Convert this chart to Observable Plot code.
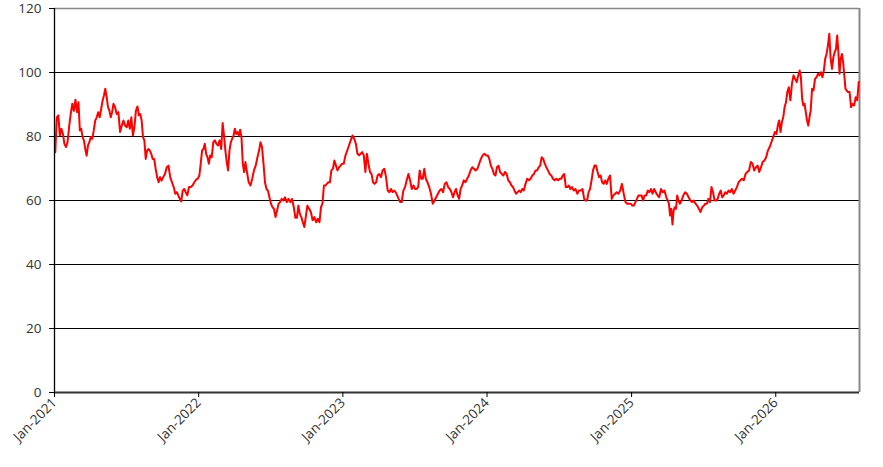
<!DOCTYPE html>
<html>
<head>
<meta charset="utf-8">
<script src="https://cdn.jsdelivr.net/npm/d3@7"></script>
<script src="https://cdn.jsdelivr.net/npm/@observablehq/plot@0.6"></script>
<style>
  html, body { margin: 0; padding: 0; background: #fff; }
  #chart svg { display: block; }
</style>
</head>
<body>
<div id="chart"></div>
<script>
// Values, grouped by month (Jan..Dec) for each year.
const v2021 = [
  [75.1, 86, 86.6, 80.3, 82.4, 80.8, 77.7, 76.7],
  [78.2, 83, 87, 90.2, 88, 91.5, 87.6],
  [90.7, 81.9, 82.4, 79.8, 78.8, 76.1, 74, 77.2, 78.2],
  [79.8, 79.3, 81.9, 85, 86, 87.6, 86, 88.6],
  [91.2, 92.8, 94.9, 92.3, 89.2, 88.1, 86, 87.6, 90.2],
  [89.2, 87, 87.6, 81.4, 83.4, 85, 83.4],
  [82.9, 85, 82.4, 86, 80.3, 82.9, 88.1, 89.4],
  [86.6, 87, 85, 79.8, 78.8, 73, 75.6, 76.1, 75.6],
  [74.6, 73, 73, 69.9, 67.3, 65.7, 67.3, 66.2],
  [67.3, 68.3, 70.4, 70.9, 67.3, 65.7, 64.2],
  [62.1, 62.6, 61.6, 60.5, 59.7, 63.1, 63.6, 62.6],
  [61.6, 64.2, 64.2, 64.7, 65.7, 66.5, 66.8]
];
const v2022 = [
  [67.8, 71.5, 75.6, 76.1, 77.7, 74.6, 73.5, 71.5, 74.1],
  [73.5, 78.2, 78.8, 77.7, 77.2, 78.8, 76.1],
  [84.2, 80.3, 75.6, 72, 69.4, 75.6, 78.2, 79.3, 80.3],
  [82.4, 80.8, 81.4, 80.3, 82.1, 79.8, 71.5, 68.9, 72],
  [68.9, 65.7, 64.7, 66.8, 69.4, 70.9, 73.5],
  [75.6, 78.2, 76.7, 71.5, 65.7, 63.6, 63.1, 61],
  [59, 57.9, 57.4, 54.8, 56.9, 59, 59.5, 60.5],
  [60, 61, 59.5, 60.5, 59.5, 60.5, 57.9],
  [54.6, 54.6, 58.4, 55.8, 54.8, 53.2, 51.7, 54.8],
  [58.4, 57.4, 56.4, 53.8, 54.8, 53.2, 54.3],
  [53.2, 57.9, 59, 64.7, 64.7, 65.2, 65.7, 65.7],
  [69.4, 69.9, 72.5, 70.9, 69.4, 70.4, 70.9, 71.5]
];
const v2023 = [
  [71.5, 74.1, 75.6, 77.2, 78.8, 80.3, 79.3],
  [77.7, 74.6, 74.1, 74.6, 75.1, 74.1, 68.9],
  [74.6, 71.5, 68.9, 68.3, 65.7, 65.2, 65.7, 67.8],
  [68.3, 67.3, 69.4, 69.9, 67.3, 63.1, 62.6],
  [63.6, 62.6, 63.1, 62.6, 61.6, 60.5, 59.5, 59.5],
  [63.1, 64.2, 66.3, 68.3, 66.3, 63.6, 64.7],
  [63.6, 63.6, 64.2, 69.4, 66.8, 66.8, 69.9, 66.8],
  [65.7, 64.2, 62.1, 59, 60, 61, 62.1],
  [63.1, 63.6, 62.6, 65.2, 65.7, 64.2, 63.6],
  [62.6, 61, 62.6, 63.6, 61.6, 60.5, 63.6, 64.7],
  [66.3, 65.7, 66.8, 67.8, 69.4, 70.4, 69.9],
  [69.4, 69.9, 71.5, 73, 74.1, 74.6, 74.1]
];
const v2024 = [
  [74.1, 73, 70.9, 69.9, 68.3, 67.8, 70.4, 70.9],
  [68.9, 68.3, 67.8, 68.9, 68.3, 66.3, 65.7],
  [64.7, 64.2, 63.1, 62.1, 62.6, 63.1, 62.6, 63.6],
  [63.1, 65.2, 66.8, 66.3, 66.8, 67.8, 68.3],
  [69.4, 69.4, 70.4, 70.9, 73.5, 73, 71.5, 70.4],
  [69.4, 68.3, 67.8, 66.8, 66.3, 66.8, 66.3],
  [66.8, 66.8, 67.8, 68.3, 64.2, 64.2, 64.7, 63.6],
  [64.2, 63.1, 63.6, 62.1, 63.1, 63.1, 63.6],
  [60.5, 60, 60, 62.6, 63.6, 66.3, 69.4, 70.9],
  [70.9, 68.9, 67.3, 67.8, 65.7, 65.2, 66.3, 65.2],
  [66.8, 67.8, 60.5, 61.6, 62.1, 62.6, 62.1],
  [63.1, 65.2, 62.1, 59.5, 59, 59, 59]
];
const v2025 = [
  [58.4, 58.4, 59.5, 60.5, 61.6, 61.6, 61.6, 60],
  [61.6, 61.6, 63.1, 62.6, 63.6, 62.1, 63.6],
  [62.6, 61.6, 61, 63.6, 62.6, 63.1, 61],
  [60, 59, 55.3, 57.4, 52.5, 56.9, 57.9, 57.4, 61.6, 60],
  [59, 60, 61.6, 62.6, 62.1, 61, 60],
  [59.5, 60, 59, 58.4, 57.4, 56.4, 57.9],
  [58.4, 59, 59, 60.5, 59.5, 64.2, 62.6, 60],
  [60, 60.5, 62.1, 63.1, 61, 61.6, 62.6, 62.1],
  [63.1, 62.6, 63.6, 62.1, 63.1, 64.2, 65.7],
  [66.3, 66.8, 66.3, 68.3, 68.9, 69.4, 72],
  [71.5, 69.4, 70.4, 70.9, 68.9, 70.4, 72],
  [72.5, 73.5, 75.6, 76.7, 78.2, 79.8, 81.4]
];
const v2026 = [
  [80.8, 83.4, 85, 81.4, 84.5, 86, 89.2, 90.7, 93.9],
  [95.4, 91.3, 96.5, 99.1, 98, 97, 99.1],
  [100.6, 98.5, 91.8, 89.7, 90.2, 87.6, 85, 83.4, 86, 88.1],
  [94.9, 94.4, 98, 98.5, 99.6, 99.1, 100.1, 98.5],
  [100.6, 104.3, 105.8, 108.4, 112.1, 104.3, 101.1, 104.8, 106.4],
  [107.4, 111.6, 106.4, 99.6, 104.3, 105.8, 103.2, 99.1, 94.9, 94.4],
  [93.9, 93.9, 89.2, 90.2, 89.7, 92.3, 91.3, 97]
];

const years = [2021, 2022, 2023, 2024, 2025, 2026];
const yearValues = [v2021, v2022, v2023, v2024, v2025, v2026];
const yTicks = [0, 20, 40, 60, 80, 100, 120];
const gridValues = [20, 40, 60, 80, 100];
const xStart = new Date(Date.UTC(2021, 0, 1));
const xEnd = new Date(Date.UTC(2026, 7, 1));
const xTicks = years.map(y => new Date(Date.UTC(y, 0, 1)));

// Build table: values spread through their month in order.
const data = [];
years.forEach((yr, yi) => {
  yearValues[yi].forEach((vals, m) => {
    const s = Date.UTC(yr, m, 1), e = Date.UTC(yr, m + 1, 1);
    vals.forEach((v, j) => {
      data.push({ date: new Date(s + (j + 0.5) / vals.length * (e - s)), value: v });
    });
  });
});

const chart = Plot.plot({
  width: 883,
  height: 467,
  marginLeft: 54,
  marginRight: 24,
  marginTop: 8,
  marginBottom: 75,
  style: { fontFamily: "'Open Sans', sans-serif", fontSize: "13.5px", color: "#333", background: "#fff" },
  x: { type: "utc", domain: [xStart, xEnd] },
  y: { domain: [0, 120] },
  marks: [
    Plot.ruleY(gridValues, { stroke: "#000", strokeWidth: 1 }),
    Plot.ruleY([120], { stroke: "#888", strokeWidth: 1.5 }),
    Plot.ruleX([xEnd], { stroke: "#888", strokeWidth: 2 }),
    Plot.line(data, { x: "date", y: "value", stroke: "#ff0000", strokeWidth: 2 }),
    Plot.ruleX([xStart], { stroke: "#000", strokeWidth: 1.3 }),
    Plot.ruleY([0], { stroke: "#333", strokeWidth: 2 }),
    Plot.axisY({ ticks: yTicks, tickSize: 5, tickPadding: 8, label: null, stroke: "#000", fill: "#333", fontSize: 13.5 }),
    Plot.axisX({ ticks: xTicks, tickFormat: d3.utcFormat("%b-%Y"), tickSize: 5, tickPadding: 3, tickRotate: -45, label: null, stroke: "#000", fill: "#333", fontSize: 13.5 })
  ]
});
document.getElementById("chart").appendChild(chart);
</script>
</body>
</html>
